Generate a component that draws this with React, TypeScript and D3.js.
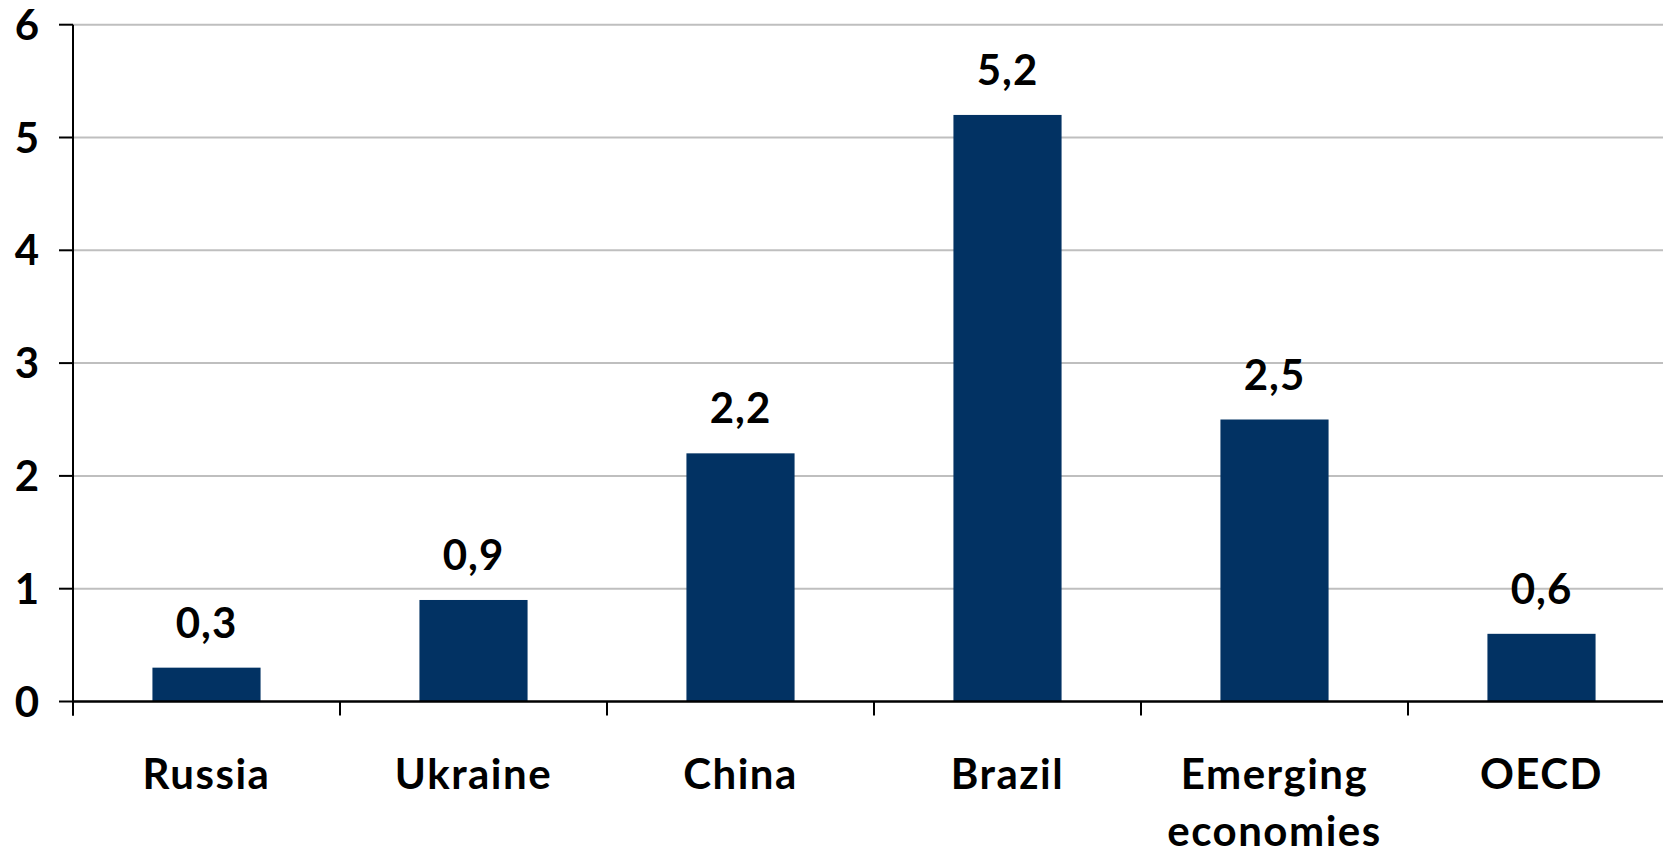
import React from "react";
import * as d3 from "d3";

const categories: string[][] = [["Russia"], ["Ukraine"], ["China"], ["Brazil"], ["Emerging", "economies"], ["OECD"]];
const values: number[] = [0.3, 0.9, 2.2, 5.2, 2.5, 0.6];
const yTicks: number[] = [0, 1, 2, 3, 4, 5, 6];

const W = 1663;
const H = 853;
const left = 73;
const right = 73 + 6 * 267;
const top = 24.7;
const bottom = 701.5;
const font = "Lato, 'Open Sans', sans-serif";

export default function App() {
  const keys = categories.map((c) => c.join(" "));
  const x = d3.scaleBand<string>().domain(keys).range([left, right]).paddingInner(0.595).paddingOuter(0.2975);
  const y = d3.scaleLinear().domain([0, 6]).range([bottom, top]);
  const fmt = (v: number) => d3.format(".1f")(v).replace(".", ",");
  const step = x.step();
  const tickXs = d3.range(0, keys.length + 1).map((i) => left + i * step);

  return (
    <svg width={W} height={H} style={{ position: "absolute", left: 0, top: 0, background: "#fff" }}>
      {yTicks.filter((t) => t > 0).map((t) => (
        <line key={"g" + t} x1={left} x2={right} y1={y(t)} y2={y(t)} stroke="#bfbfbf" strokeWidth={2} />
      ))}
      {values.map((v, i) => (
        <rect key={"b" + i} x={x(keys[i])} y={y(v)} width={x.bandwidth()} height={y(0) - y(v)} fill="#023263" />
      ))}
      {values.map((v, i) => (
        <text key={"v" + i} x={(x(keys[i]) as number) + x.bandwidth() / 2} y={y(v) - 30} textAnchor="middle"
          fontFamily={font} fontWeight={700} fontSize={42} letterSpacing={1} fill="#000">{fmt(v)}</text>
      ))}
      <line x1={left} x2={left} y1={top} y2={bottom + 14} stroke="#000" strokeWidth={2} />
      <line x1={left} x2={right} y1={bottom} y2={bottom} stroke="#000" strokeWidth={2.5} />
      {yTicks.map((t) => (
        <g key={"t" + t}>
          <line x1={59} x2={left} y1={y(t)} y2={y(t)} stroke="#000" strokeWidth={2} />
          <text x={39} y={y(t) + 15} textAnchor="end" fontFamily={font} fontWeight={700} fontSize={42} fill="#000">{t}</text>
        </g>
      ))}
      {tickXs.map((tx, i) => (
        <line key={"xt" + i} x1={tx} x2={tx} y1={bottom} y2={bottom + 14} stroke="#000" strokeWidth={2} />
      ))}
      {categories.map((lines, i) => (
        <text key={"c" + i} textAnchor="middle" fontFamily={font} fontWeight={700} fontSize={42} letterSpacing={1.5} fill="#000">
          {lines.map((l, j) => (
            <tspan key={j} x={(x(keys[i]) as number) + x.bandwidth() / 2} y={bottom + 87 + j * 57}>{l}</tspan>
          ))}
        </text>
      ))}
    </svg>
  );
}
